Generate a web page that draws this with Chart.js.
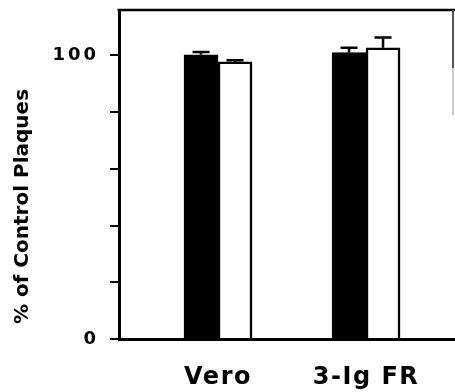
<!DOCTYPE html>
<html lang="en">
<head>
<meta charset="UTF-8">
<title>% of Control Plaques</title>
<script src="https://cdn.jsdelivr.net/npm/chart.js"></script>
<style>
  html, body { margin: 0; padding: 0; background: #fff; }
</style>
</head>
<body>
<canvas id="plaqueChart" width="455" height="392"></canvas>
<script>
// values
const categories = ['Vero', '3-Ig FR'];
const blackValues = [100.2, 101.0];
const blackErrors = [1.0, 1.7];
const whiteValues = [97.7, 102.7];
const whiteErrors = [0.6, 3.6];
const yTicks = [0, 20, 40, 60, 80, 100];
const yLabeled = [0, 100];
const yTitle = '% of Control Plaques';

const FONT = "'DejaVu Sans', 'Liberation Sans', sans-serif";

function points(values) {
  return values.map((v, i) => ({ x: i + 1, y: v }));
}

// canvas letterSpacing only for one scale's labels
function spaced(scale, spacing) {
  if (scale._spaced) return;
  scale._spaced = true;
  const draw = scale.drawLabels;
  scale.drawLabels = function (area) {
    this.ctx.save();
    this.ctx.letterSpacing = spacing;
    draw.call(this, area);
    this.ctx.restore();
  };
}

const errorBars = {
  id: 'errorBars',
  afterDatasetsDraw(chart) {
    const ctx = chart.ctx;
    const y = chart.scales.y;
    chart.data.datasets.forEach((ds, i) => {
      chart.getDatasetMeta(i).data.forEach((bar, j) => {
        const top = y.getPixelForValue(ds.data[j].y);
        const cap = y.getPixelForValue(ds.data[j].y + ds.errors[j]);
        ctx.save();
        ctx.strokeStyle = '#000';
        ctx.lineWidth = 2.5;
        ctx.beginPath();
        ctx.moveTo(bar.x, top);
        ctx.lineTo(bar.x, cap);
        ctx.moveTo(bar.x - 8.5, cap);
        ctx.lineTo(bar.x + 8.5, cap);
        ctx.stroke();
        ctx.restore();
      });
    });
  }
};

// top edge of the box, the faint right edge and the rotated y title
const frame = {
  id: 'frame',
  afterDraw(chart) {
    const { ctx, chartArea: a } = chart;
    ctx.save();
    ctx.strokeStyle = '#000';
    ctx.lineWidth = 2.5;
    ctx.beginPath();
    ctx.moveTo(a.left - 1.5, a.top);
    ctx.lineTo(a.right, a.top);
    ctx.stroke();
    ctx.strokeStyle = '#555';
    ctx.lineWidth = 2;
    ctx.beginPath();
    ctx.moveTo(a.right - 2, a.top);
    ctx.lineTo(a.right - 2, a.top + 58);
    ctx.stroke();
    ctx.strokeStyle = '#ccc';
    ctx.beginPath();
    ctx.moveTo(a.right - 2, a.top + 58);
    ctx.lineTo(a.right - 2, a.top + 105);
    ctx.stroke();

    ctx.translate(23, 206.5);
    ctx.rotate(-Math.PI / 2);
    ctx.font = 'bold 20px ' + FONT;
    ctx.fillStyle = '#000';
    ctx.textAlign = 'center';
    ctx.textBaseline = 'middle';
    ctx.fillText(yTitle, 0, 0);
    ctx.restore();
  }
};

new Chart(document.getElementById('plaqueChart'), {
  type: 'bar',
  data: {
    datasets: [{
      data: points(blackValues),
      errors: blackErrors,
      backgroundColor: '#000',
      borderColor: '#000',
      borderWidth: 2
    }, {
      data: points(whiteValues),
      errors: whiteErrors,
      backgroundColor: '#fff',
      borderColor: '#000',
      borderWidth: 2.5
    }]
  },
  options: {
    responsive: false,
    animation: false,
    events: [],
    barThickness: 34,
    layout: { padding: { top: 10, right: 0, left: 0, bottom: 0 } },
    plugins: { legend: { display: false }, tooltip: { enabled: false } },
    scales: {
      x: {
        type: 'linear',
        offset: false,
        min: 0.331,
        max: 2.601,
        afterBuildTicks(s) { s.ticks = categories.map((c, i) => ({ value: i + 1 })); },
        afterFit(s) { s.height = 53; s.paddingLeft = 0; s.paddingRight = 0; spaced(s, '1.5px'); },
        grid: { drawOnChartArea: false, drawTicks: false },
        border: { color: '#000', width: 3 },
        ticks: {
          color: '#000',
          padding: 24,
          maxRotation: 0,
          font: { family: FONT, size: 24, weight: 'bold' },
          callback: (v) => categories[v - 1] || ''
        }
      },
      y: {
        min: 0,
        max: 116,
        afterBuildTicks(s) { s.ticks = yTicks.map(v => ({ value: v })); },
        afterFit(s) { s.width = 119; s.paddingTop = 0; s.paddingBottom = 0; spaced(s, '3px'); },
        grid: { drawOnChartArea: false, drawTicks: true, tickLength: 9, color: '#000', lineWidth: 2 },
        border: { color: '#000', width: 3 },
        ticks: {
          color: '#000',
          padding: 11,
          font: { family: FONT, size: 18, weight: 'bold' },
          callback: (v) => yLabeled.includes(v) ? String(v) : ''
        }
      }
    }
  },
  plugins: [errorBars, frame]
});
</script>
</body>
</html>
